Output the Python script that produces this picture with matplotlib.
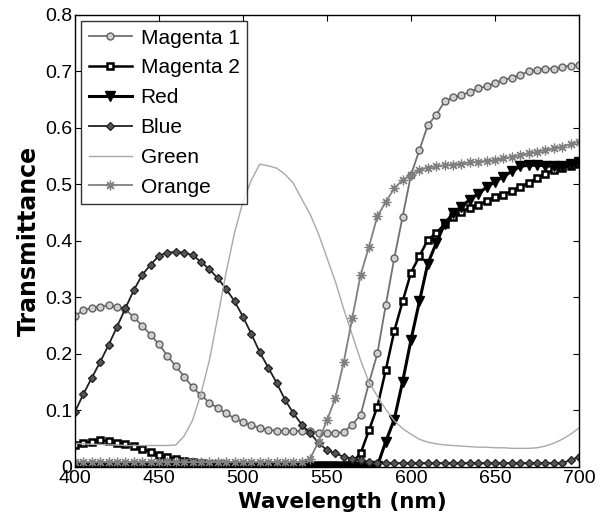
import numpy as np
import matplotlib
matplotlib.use('Agg')
import matplotlib.pyplot as plt

plt.rcParams['font.family'] = ['Liberation Sans', 'DejaVu Sans']

# wavelength grid (nm), one reading every 5 nm
wl = np.arange(400, 705, 5)

magenta1 = [0.268, 0.277, 0.282, 0.284, 0.286, 0.283, 0.279, 0.265, 0.250, 0.234,
            0.217, 0.197, 0.178, 0.160, 0.141, 0.127, 0.114, 0.104, 0.095, 0.086,
            0.079, 0.074, 0.069, 0.066, 0.064, 0.063, 0.063, 0.064, 0.064, 0.061,
            0.060, 0.060, 0.062, 0.075, 0.092, 0.149, 0.201, 0.287, 0.369, 0.443,
            0.517, 0.561, 0.605, 0.623, 0.647, 0.654, 0.658, 0.664, 0.670, 0.674,
            0.679, 0.685, 0.689, 0.694, 0.700, 0.703, 0.705, 0.705, 0.708, 0.710,
            0.711]
magenta2 = [0.039, 0.042, 0.045, 0.047, 0.046, 0.043, 0.040, 0.037, 0.032, 0.027,
            0.021, 0.018, 0.014, 0.011, 0.009, 0.007, 0.006, 0.005, 0.004, 0.004,
            0.003, 0.003, 0.003, 0.003, 0.003, 0.003, 0.003, 0.003, 0.003, 0.003,
            0.003, 0.003, 0.003, 0.008, 0.024, 0.065, 0.107, 0.172, 0.240, 0.293,
            0.344, 0.373, 0.402, 0.414, 0.430, 0.442, 0.452, 0.458, 0.464, 0.470,
            0.477, 0.482, 0.488, 0.495, 0.503, 0.511, 0.519, 0.525, 0.529, 0.533,
            0.537]
red = [0.0] * 36 + [0.002, 0.045, 0.084, 0.151, 0.225, 0.293, 0.360, 0.396, 0.430,
                    0.449, 0.461, 0.473, 0.484, 0.495, 0.505, 0.514, 0.523, 0.532,
                    0.534, 0.534, 0.533, 0.532, 0.533, 0.536, 0.540]
blue = [0.098, 0.129, 0.158, 0.186, 0.216, 0.248, 0.281, 0.313, 0.340, 0.358,
        0.374, 0.379, 0.381, 0.379, 0.375, 0.363, 0.350, 0.334, 0.315, 0.293,
        0.266, 0.235, 0.203, 0.176, 0.149, 0.119, 0.095, 0.075, 0.060, 0.042,
        0.030, 0.024, 0.018, 0.015, 0.012, 0.009, 0.007, 0.007, 0.007, 0.007,
        0.007, 0.007, 0.007, 0.007, 0.007, 0.007, 0.007, 0.007, 0.007, 0.007,
        0.007, 0.007, 0.007, 0.007, 0.007, 0.007, 0.007, 0.007, 0.007, 0.012,
        0.018]
green = [0.042, 0.041, 0.040, 0.040, 0.039, 0.039, 0.038, 0.038, 0.038, 0.038,
         0.038, 0.038, 0.039, 0.055, 0.083, 0.130, 0.189, 0.266, 0.345, 0.415,
         0.470, 0.508, 0.536, 0.533, 0.529, 0.518, 0.502, 0.474, 0.447, 0.412,
         0.370, 0.328, 0.279, 0.234, 0.189, 0.150, 0.125, 0.102, 0.082, 0.068,
         0.058, 0.049, 0.044, 0.041, 0.039, 0.038, 0.037, 0.036, 0.035, 0.035,
         0.034, 0.034, 0.033, 0.033, 0.033, 0.034, 0.037, 0.042, 0.049, 0.058,
         0.069]
orange = [0.009] * 28 + [0.015, 0.045, 0.083, 0.122, 0.186, 0.263, 0.340, 0.390,
                         0.444, 0.469, 0.493, 0.508, 0.517, 0.526, 0.530, 0.532,
                         0.534, 0.535, 0.537, 0.539, 0.540, 0.542, 0.543, 0.546,
                         0.549, 0.552, 0.555, 0.558, 0.561, 0.564, 0.567, 0.571,
                         0.576]

fig = plt.figure(figsize=(6.03, 5.16), dpi=100)
ax = fig.add_axes([0.1244, 0.095, 0.8358, 0.876])

ax.plot(wl, magenta1, color='#707070', lw=1.3, marker='o', ms=5,
        mfc='#d0d0d0', mec='#606060', mew=1.0, label='Magenta 1')
ax.plot(wl, magenta2, color='black', lw=1.8, marker='s', ms=5,
        mfc='white', mec='black', mew=1.8, label='Magenta 2')
ax.plot(wl, red, color='black', lw=2.2, marker='v', ms=7,
        mfc='black', mec='black', label='Red')
ax.plot(wl, blue, color='#202020', lw=1.3, marker='D', ms=4.5,
        mfc='#555555', mec='#202020', mew=0.9, label='Blue')
ax.plot(wl, green, color='#a8a8a8', lw=1.0, label='Green')
ax.plot(wl, orange, color='#808080', lw=1.3, marker=(8, 2, 0), ms=7,
        mec='#808080', mew=0.9, label='Orange')

ax.set_xlim(400, 700)
ax.set_ylim(0, 0.8)
ax.set_xticks([400, 450, 500, 550, 600, 650, 700])
ax.set_yticks([0, 0.1, 0.2, 0.3, 0.4, 0.5, 0.6, 0.7, 0.8])
ax.set_yticklabels(['0', '0.1', '0.2', '0.3', '0.4', '0.5', '0.6', '0.7', '0.8'])
ax.tick_params(direction='in', top=True, right=True, labelsize=14, length=4, pad=2)
for s in ax.spines.values():
    s.set_linewidth(1.0)

ax.set_xlabel('Wavelength (nm)', fontsize=15.5, fontweight='heavy',
              family=['DejaVu Sans'], labelpad=0)
ax.xaxis.set_label_coords(0.53, -0.055)
ax.set_ylabel('Transmittance', fontsize=17, fontweight='heavy',
              family=['DejaVu Sans'], labelpad=3)

leg = ax.legend(loc='upper left', fontsize=15, frameon=True, fancybox=False,
                edgecolor='black', borderaxespad=0.3, handlelength=2.1,
                labelspacing=0.52, borderpad=0.35, handletextpad=0.4)
leg.get_frame().set_linewidth(1.0)

fig.savefig('out.png', dpi=100)
